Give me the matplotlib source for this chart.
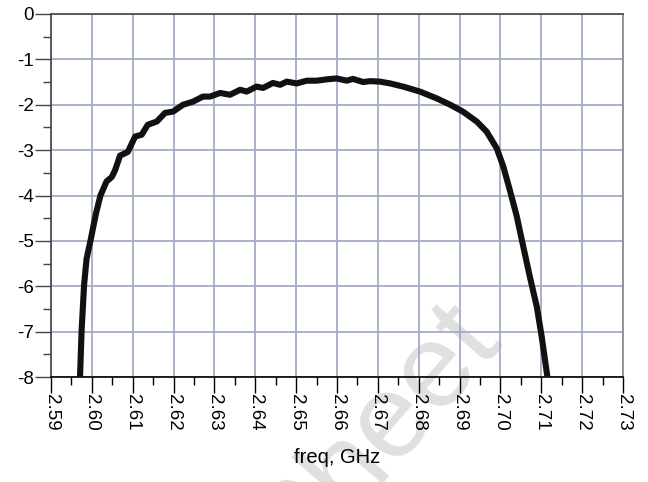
import numpy as np
import matplotlib
matplotlib.use('Agg')
import matplotlib.pyplot as plt
from matplotlib.ticker import MultipleLocator

plt.rcParams['font.family'] = ['Liberation Sans', 'DejaVu Sans']

# S21 magnitude (dB)
freq_ghz = [2.5971, 2.5975, 2.5981, 2.5987, 2.5997, 2.6010, 2.6021, 2.6036, 2.6049, 2.6057,
            2.6069, 2.6088, 2.6106, 2.6122, 2.6137, 2.6159, 2.6179, 2.6199, 2.6223, 2.6248,
            2.6272, 2.6289, 2.6314, 2.6338, 2.6363, 2.6379, 2.6403, 2.6419, 2.6443, 2.6461,
            2.6477, 2.6501, 2.6526, 2.6550, 2.6575, 2.6599, 2.6624, 2.6639, 2.6664, 2.6681,
            2.6705, 2.6730, 2.6762, 2.6803, 2.6844, 2.6877, 2.6908, 2.6942, 2.6966, 2.6991,
            2.7007, 2.7023, 2.7040, 2.7056, 2.7072, 2.7089, 2.7101, 2.7115]
s21_db = [-8.0, -6.96, -5.97, -5.4, -4.98, -4.4, -4.0, -3.69, -3.59, -3.44,
          -3.12, -3.04, -2.70, -2.66, -2.44, -2.37, -2.18, -2.15, -2.0, -1.93,
          -1.82, -1.82, -1.74, -1.78, -1.67, -1.71, -1.60, -1.63, -1.52, -1.56,
          -1.49, -1.53, -1.47, -1.47, -1.44, -1.42, -1.47, -1.43, -1.50, -1.48,
          -1.49, -1.53, -1.60, -1.71, -1.86, -2.0, -2.15, -2.37, -2.59, -2.96,
          -3.36, -3.88, -4.46, -5.13, -5.79, -6.45, -7.11, -8.0]

x_ticks = [2.59, 2.60, 2.61, 2.62, 2.63, 2.64, 2.65, 2.66, 2.67, 2.68, 2.69, 2.70, 2.71, 2.72, 2.73]
y_ticks = [0, -1, -2, -3, -4, -5, -6, -7, -8]

fig = plt.figure(figsize=(6.48, 4.82), dpi=100)
ax = fig.add_axes([51 / 648, 105 / 482, 572 / 648, 363 / 482], zorder=1)
ax.patch.set_alpha(0)

# faint watermark, behind the plot
fig.text(503 / 648, 1 - 340 / 482, 'Sheet', fontsize=86, color='#e0e0e0',
         rotation=49, rotation_mode='anchor', ha='right', va='baseline', zorder=0)

ax.plot(freq_ghz, s21_db, color='#111111', lw=4.4, solid_capstyle='butt', zorder=3)

ax.set_xlim(2.59, 2.73)
ax.set_ylim(-8, 0)
ax.set_xticks(x_ticks)
ax.set_xticklabels(['%.2f' % v for v in x_ticks], rotation=-90)
ax.set_yticks(y_ticks)
ax.set_yticklabels(['%d' % v for v in y_ticks])
ax.xaxis.set_minor_locator(MultipleLocator(0.005))
ax.yaxis.set_minor_locator(MultipleLocator(0.5))

ax.grid(True, which='major', color='#a3abc6', lw=1.3)
ax.tick_params(which='major', length=11.5, width=1.0, labelsize=13.5, pad=1, color='black')
ax.tick_params(which='minor', length=5.8, width=1.0, color='black')
ax.tick_params(axis='y', which='both', color='#444444')

for side in ['left', 'top']:
    ax.spines[side].set_color('#444444')
ax.spines['right'].set_color('#888888')
ax.spines['bottom'].set_color('black')
for s in ax.spines.values():
    s.set_linewidth(1.2)

ax.set_xlabel('freq, GHz', fontsize=14.5, labelpad=12)

fig.savefig('out.png', dpi=100)
